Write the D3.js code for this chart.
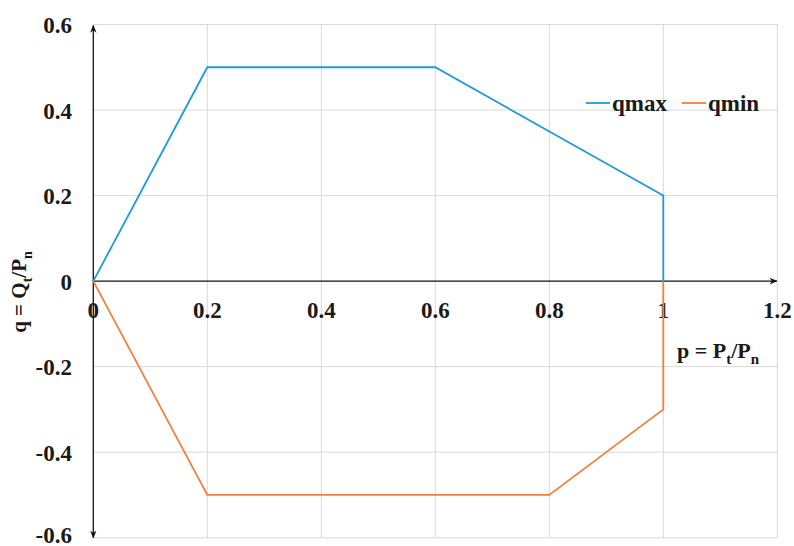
<!DOCTYPE html>
<html>
<head>
<meta charset="utf-8">
<script src="https://cdn.jsdelivr.net/npm/d3@7/dist/d3.min.js"></script>
<style>
  html, body { margin: 0; padding: 0; background: #fff; }
  #chart text, #chart tspan {
    font-family: "Liberation Serif", "DejaVu Serif", serif;
    font-weight: 700;
  }
</style>
</head>
<body>
<svg id="chart" width="794" height="546"></svg>
<script>
// Capability curve: reactive power limits vs. active power (per unit)
const qmaxP = [0, 0.2, 0.6, 1.0, 1.0];
const qmaxQ = [0, 0.5, 0.5, 0.2, 0];
const qminP = [0, 0.2, 0.8, 1.0, 1.0];
const qminQ = [0, -0.5, -0.5, -0.3, 0];
const xTicks = [0, 0.2, 0.4, 0.6, 0.8, 1, 1.2];
const yTicks = [-0.6, -0.4, -0.2, 0, 0.2, 0.4, 0.6];
const seriesNames = ["qmax", "qmin"];
const seriesColors = ["#1f9bd7", "#f0813a"];

const svg = d3.select("#chart");
const x = d3.scaleLinear().domain([0, 1.2]).range([93.3, 777.3]);
const y = d3.scaleLinear().domain([-0.6, 0.6]).range([537.7, 24.5]);

// plain hyphen for negatives, trimmed decimals
const fmt = d => String(+d.toFixed(1));

// gridlines
const grid = svg.append("g");
grid.selectAll("line.v").data(xTicks.filter(d => d !== 0)).join("line")
  .attr("x1", d => x(d)).attr("x2", d => x(d))
  .attr("y1", y(0.6)).attr("y2", y(-0.6))
  .attr("stroke", "#d9d9d9").attr("stroke-width", 1);
grid.selectAll("line.h").data(yTicks.filter(d => d !== 0)).join("line")
  .attr("x1", x(0)).attr("x2", x(1.2))
  .attr("y1", d => y(d)).attr("y2", d => y(d))
  .attr("stroke", "#d9d9d9").attr("stroke-width", 1);

// arrowheads
const defs = svg.append("defs");
defs.append("marker").attr("id", "arrow")
  .attr("viewBox", "0 0 10 10").attr("refX", 9).attr("refY", 5)
  .attr("markerWidth", 8).attr("markerHeight", 8)
  .attr("markerUnits", "userSpaceOnUse")
  .attr("orient", "auto-start-reverse")
  .append("path").attr("d", "M0,1 L10,5 L0,9 L3,5 Z").attr("fill", "#111");

// axes lines
svg.append("line")
  .attr("x1", x(0)).attr("x2", x(1.2) - 0.5)
  .attr("y1", y(0)).attr("y2", y(0))
  .attr("stroke", "#111").attr("stroke-width", 1.3)
  .attr("marker-end", "url(#arrow)");
svg.append("line")
  .attr("x1", x(0)).attr("x2", x(0))
  .attr("y1", y(-0.6)).attr("y2", y(0.6) + 1)
  .attr("stroke", "#111").attr("stroke-width", 1.3)
  .attr("marker-start", "url(#arrow)")
  .attr("marker-end", "url(#arrow)");

// tick labels
svg.append("g").selectAll("text").data(xTicks).join("text")
  .attr("x", d => x(d)).attr("y", y(0) + 29)
  .attr("text-anchor", "middle").attr("dominant-baseline", "central")
  .attr("fill", "#1a1a1a")
  .style("font-size", "23px")
  .text(fmt);
svg.append("g").selectAll("text").data(yTicks).join("text")
  .attr("x", 72).attr("y", d => Math.min(y(d) + 1, 535))
  .attr("text-anchor", "end").attr("dominant-baseline", "central")
  .attr("fill", "#1a1a1a")
  .style("font-size", "23px")
  .text(fmt);

// series lines
const line = d3.line().x(d => x(d[0])).y(d => y(d[1]));
const series = [
  d3.zip(qmaxP, qmaxQ),
  d3.zip(qminP, qminQ)
];
svg.append("g").selectAll("path").data(series).join("path")
  .attr("d", line)
  .attr("fill", "none")
  .attr("stroke", (d, i) => seriesColors[i])
  .attr("stroke-width", 1.8);

// legend
const legendPos = [586, 682];
const leg = svg.append("g").selectAll("g").data(seriesNames).join("g")
  .attr("transform", (d, i) => `translate(${legendPos[i]},103)`);
leg.append("line").attr("x1", 0).attr("x2", 24).attr("y1", 0).attr("y2", 0)
  .attr("stroke", (d, i) => seriesColors[i]).attr("stroke-width", 1.8);
leg.append("text").attr("x", 26).attr("y", 0)
  .attr("dominant-baseline", "central")
  .attr("fill", "#1a1a1a")
  .style("font-size", "23px")
  .text(d => d);

// axis titles
const xt = svg.append("text").attr("x", 677).attr("y", 358)
  .attr("fill", "#1a1a1a").style("font-size", "22px");
xt.append("tspan").text("p = P");
xt.append("tspan").attr("dy", 6).style("font-size", "15px").text("t");
xt.append("tspan").attr("dy", -6).text("/P");
xt.append("tspan").attr("dy", 6).style("font-size", "15px").text("n");

const yt = svg.append("text")
  .attr("transform", "translate(26,292) rotate(-90)")
  .attr("text-anchor", "middle")
  .attr("fill", "#1a1a1a")
  .style("font-size", "21px");
yt.append("tspan").text("q = Q");
yt.append("tspan").attr("dy", 6).style("font-size", "14px").text("t");
yt.append("tspan").attr("dy", -6).text("/P");
yt.append("tspan").attr("dy", 6).style("font-size", "14px").text("n");
</script>
</body>
</html>
